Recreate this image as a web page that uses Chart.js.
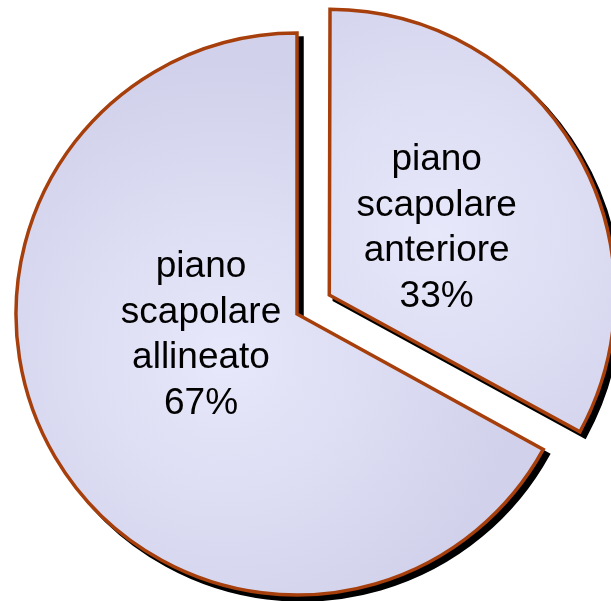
<!DOCTYPE html>
<html>
<head>
<meta charset="utf-8">
<style>
  html, body { margin: 0; padding: 0; background: #ffffff; }
  #wrap { width: 611px; height: 601px; }
</style>
<script src="https://cdn.jsdelivr.net/npm/chart.js@4/dist/chart.umd.min.js"></script>
</head>
<body>
<div id="wrap"><canvas id="c" width="611" height="601"></canvas></div>
<script>
// Slices of the pie: category names and their percentage shares
const categories = ['piano scapolare anteriore', 'piano scapolare allineato'];
const shares = [33, 67];
// How far each slice is pulled out of the pie (Chart.js arc offset units)
const explode = [150, 0];

const total = shares.reduce((a, b) => a + b, 0);

// Canvas angle (radians) of the middle of slice i, pie starting at 12 o'clock, clockwise
function midAngle(i) {
  const before = shares.slice(0, i).reduce((a, b) => a + b, 0);
  return -Math.PI / 2 + (before + shares[i] / 2) / total * Math.PI * 2;
}

const PIE_RADIUS = 281;

// Soft radial shading for every slice, brightest toward the slice centre
function sliceFill(context) {
  const chart = context.chart;
  const area = chart.chartArea;
  if (!area) return '#DCDCF2';
  const i = context.dataIndex;
  const a = midAngle(i);
  const cx = (area.left + area.right) / 2 + Math.cos(a) * explode[i] / 4;
  const cy = (area.top + area.bottom) / 2 + Math.sin(a) * explode[i] / 4;
  const gx = cx + Math.cos(a) * PIE_RADIUS * 0.3;
  const gy = cy + Math.sin(a) * PIE_RADIUS * 0.3;
  const g = chart.ctx.createRadialGradient(gx, gy, 0, gx, gy, PIE_RADIUS * 1.05);
  g.addColorStop(0, '#E8E8FB');
  g.addColorStop(1, '#D1D1EB');
  return g;
}

// Hard black drop shadow drawn under each slice
const sliceShadow = {
  id: 'sliceShadow',
  beforeDatasetsDraw(chart, args, opts) {
    const ctx = chart.ctx;
    chart.getDatasetMeta(0).data.forEach(arc => {
      const saved = arc.options;
      arc.options = Object.assign({}, saved, { backgroundColor: opts.color, borderColor: opts.color });
      ctx.save();
      ctx.translate(opts.dx, opts.dy);
      if (opts.blur) ctx.filter = 'blur(' + opts.blur + 'px)';
      arc.draw(ctx);
      ctx.restore();
      arc.options = saved;
    });
  }
};

// Multi-line category + percentage text inside each slice
const sliceText = {
  id: 'sliceText',
  afterDatasetsDraw(chart, args, opts) {
    const ctx = chart.ctx;
    ctx.save();
    ctx.font = opts.font;
    ctx.fillStyle = opts.color;
    ctx.textAlign = 'center';
    ctx.textBaseline = 'middle';
    chart.getDatasetMeta(0).data.forEach((arc, i) => {
      const a = midAngle(i) + opts.angleShift[i] * Math.PI / 180;
      const dist = explode[i] / 4 + arc.outerRadius * opts.radiusFraction[i];
      const x = arc.x + Math.cos(a) * dist;
      const y = arc.y + Math.sin(a) * dist;
      const lines = categories[i].split(' ').concat([shares[i] + '%']);
      const top = y - (lines.length - 1) * opts.lineHeight / 2;
      lines.forEach((ln, k) => ctx.fillText(ln, x, top + k * opts.lineHeight));
    });
    ctx.restore();
  }
};

new Chart(document.getElementById('c'), {
  type: 'pie',
  data: {
    labels: categories,
    datasets: [{
      data: shares,
      backgroundColor: sliceFill,
      borderColor: '#A63F0C',
      borderWidth: 3.5,
      borderJoinStyle: 'miter',
      offset: explode
    }]
  },
  options: {
    responsive: false,
    devicePixelRatio: 1,
    animation: false,
    events: [],
    radius: PIE_RADIUS,
    rotation: 0,
    layout: { padding: { left: 0, right: 17, top: 27, bottom: 0 } },
    plugins: {
      legend: { display: false },
      tooltip: { enabled: false },
      sliceShadow: { color: '#000000', dx: 5, dy: 5, blur: 0.6 },
      sliceText: {
        font: '37px "Liberation Sans", Arial, sans-serif',
        color: '#000000',
        lineHeight: 45.5,
        radiusFraction: [0.45, 0.35],
        angleShift: [-1, 18]
      }
    }
  },
  plugins: [sliceShadow, sliceText]
});
</script>
</body>
</html>
